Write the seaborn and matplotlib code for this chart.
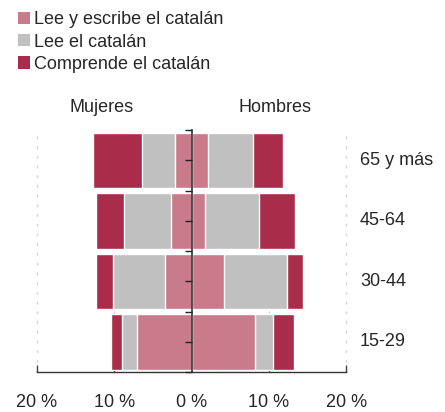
import numpy as np
import pandas as pd
import matplotlib.pyplot as plt
import seaborn as sns
from matplotlib.patches import Patch
from matplotlib.transforms import blended_transform_factory

# Data (percent of population)
ages = ['65 y más', '45-64', '30-44', '15-29']
layers = ['Lee y escribe el catalán', 'Lee el catalán', 'Comprende el catalán']
colors = ['#C97B8C', '#C0C0C0', '#A92C4A']

mujeres_escribe = [2.1, 2.6, 3.4, 7.1]
mujeres_lee = [4.3, 6.1, 6.7, 1.9]
mujeres_comprende = [6.3, 3.6, 2.2, 1.4]

hombres_escribe = [2.1, 1.8, 4.2, 8.2]
hombres_lee = [5.9, 6.9, 8.1, 2.3]
hombres_comprende = [3.8, 4.7, 2.1, 2.7]

xticks = [-20, -10, 0, 10, 20]
xticklabels = ['20 %', '10 %', '0 %', '10 %', '20 %']

sns.set_style('white')
plt.rcParams['font.family'] = ['Liberation Sans', 'DejaVu Sans']
fs = 13

# cumulative widths, drawn widest first so stacks show through
rows = []
for sex, sign, vals in [('Mujeres', -1, [mujeres_escribe, mujeres_lee, mujeres_comprende]),
                        ('Hombres', 1, [hombres_escribe, hombres_lee, hombres_comprende])]:
    cum = np.cumsum(np.array(vals), axis=0)
    for k, layer in enumerate(layers):
        for i, age in enumerate(ages):
            rows.append({'sexo': sex, 'capa': layer, 'edad': age, 'valor': sign * cum[k, i]})
df = pd.DataFrame(rows)

fig = plt.figure(figsize=(4.45, 4.12), dpi=100)
ax = fig.add_axes([0.083, 0.097, 0.695, 0.587])

for k in [2, 1, 0]:
    for sex in ['Mujeres', 'Hombres']:
        sub = df[(df['capa'] == layers[k]) & (df['sexo'] == sex)]
        sns.barplot(data=sub, x='valor', y='edad', order=ages, color=colors[k],
                    width=0.92, orient='h', saturation=1, ax=ax, zorder=2)

ax.set_xlim(-20, 20)
ax.set_ylim(3.5, -0.5)
ax.set_xlabel('')
ax.set_ylabel('')

# axes styling
for s in ['top', 'right']:
    ax.spines[s].set_visible(False)
ax.spines['left'].set_position(('data', 0))
ax.spines['left'].set_color('#333333')
ax.spines['left'].set_linewidth(1.2)
ax.spines['left'].set_zorder(3)
ax.spines['bottom'].set_color('#333333')
ax.spines['bottom'].set_linewidth(1.0)

ax.set_yticks(range(len(ages)))
ax.set_yticks(np.arange(-0.5, len(ages), 1), minor=True)
ax.tick_params(axis='y', which='both', left=True, length=5, width=1, color='#222222',
               labelleft=False, direction='out')
ax.set_xticks(xticks)
ax.set_xticklabels(xticklabels, fontsize=fs)
ax.tick_params(axis='x', bottom=True, direction='in', length=5, width=1,
               color='#444444', pad=16)

ax.grid(axis='x', color='#d4d4d4', linestyle=(0, (2, 5)), linewidth=1.0)
for gl in ax.get_xgridlines():
    gl.set_clip_on(False)
ax.set_axisbelow(True)
ax.yaxis.set_zorder(3)

# age labels on the right
tr = blended_transform_factory(fig.transFigure, ax.transData)
for i, age in enumerate(ages):
    ax.text(360 / 445, i, age, transform=tr, ha='left', va='center', fontsize=fs)

fig.text(102 / 445, 1 - 107 / 412, 'Mujeres', ha='center', va='center', fontsize=fs)
fig.text(275 / 445, 1 - 107 / 412, 'Hombres', ha='center', va='center', fontsize=fs)

handles = [Patch(facecolor=c, edgecolor='none') for c in colors]
fig.legend(handles, layers, loc='upper left', bbox_to_anchor=(0.04, 0.973),
           frameon=False, fontsize=fs, handlelength=0.67, handleheight=0.67,
           handletextpad=0.25, labelspacing=0.3, borderaxespad=0, borderpad=0)

fig.savefig('out.png', dpi=100)
